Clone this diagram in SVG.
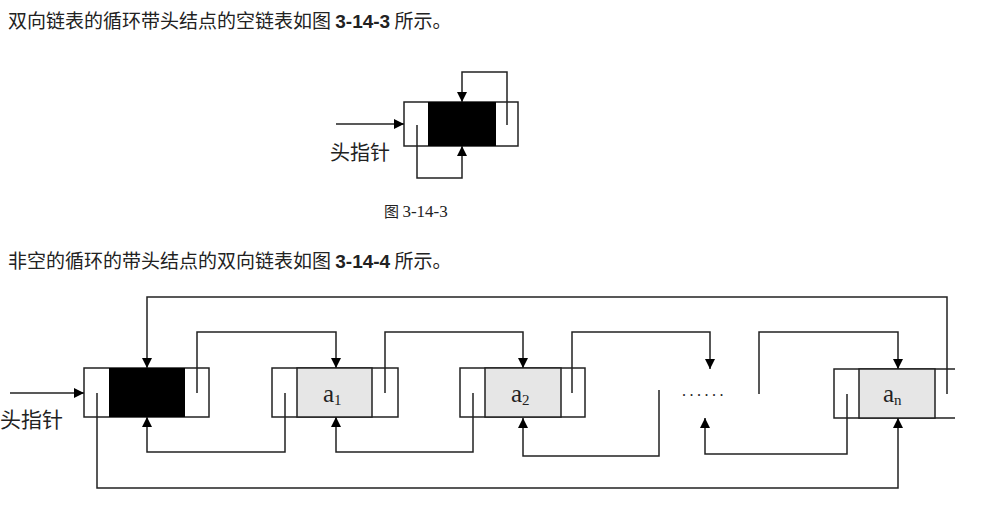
<svg xmlns="http://www.w3.org/2000/svg" width="989" height="514" viewBox="0 0 989 514">
<defs>
<marker id="ar" viewBox="0 0 10 10" refX="10" refY="5" markerWidth="11" markerHeight="10" markerUnits="userSpaceOnUse" orient="auto"><path d="M0,0 L10,5 L0,10 z" fill="#000"/></marker>
<style>
.ln{fill:none;stroke:#222;stroke-width:1.5}
.c{fill:none;stroke:#222;stroke-width:1.5;marker-end:url(#ar)}
.bx{fill:#fff;stroke:#222;stroke-width:1.5}
.blk{fill:#000}
.gr{fill:#e6e6e6;stroke:#222;stroke-width:1.5}
.cn{font-family:"Noto Sans CJK SC","Noto Sans",sans-serif;fill:#222}
.lb{font-family:"Liberation Serif",serif;font-size:25px;fill:#222}
</style>
</defs>
<rect width="989" height="514" fill="#fff"/>
<text class="cn" x="8" y="28" font-size="19">双向链表的循环带头结点的空链表如图 <tspan font-weight="bold" font-family="Liberation Sans,sans-serif">3-14-3</tspan> 所示。</text>
<text class="cn" x="8" y="268" font-size="19">非空的循环的带头结点的双向链表如图 <tspan font-weight="bold" font-family="Liberation Sans,sans-serif">3-14-4</tspan> 所示。</text>

<g id="empty-head">
<rect class="bx" x="404" y="102" width="114" height="44"/>
<rect class="blk" x="428" y="102" width="68" height="44"/>
</g>
<text class="cn" x="330" y="160" font-size="20">头指针</text>
<text class="cn" x="384" y="217" font-size="15">图 <tspan font-family="Liberation Serif,serif" font-size="17">3-14-3</tspan></text>

<g id="head"><rect class="bx" x="84" y="368" width="125" height="49"/><rect class="blk" x="109" y="368" width="76" height="49"/></g>
<g id="a1"><rect class="bx" x="272" y="368" width="126" height="49"/><rect class="gr" x="297" y="368" width="75" height="49"/><text class="lb" x="323" y="402">a<tspan font-size="15" dy="3">1</tspan></text></g>
<g id="a2"><rect class="bx" x="460" y="368" width="125" height="49"/><rect class="gr" x="485" y="368" width="76" height="49"/><text class="lb" x="511" y="402">a<tspan font-size="15" dy="3">2</tspan></text></g>
<g id="an"><path class="ln" d="M955,369 H834 V418 H955"/><rect class="gr" x="859" y="369" width="76" height="49"/><text class="lb" x="883" y="402">a<tspan font-size="15" dy="3">n</tspan></text></g>
<text x="682" y="396" font-family="Liberation Serif,serif" font-size="16" fill="#222" letter-spacing="3.5">......</text>
<text class="cn" x="0" y="427" font-size="21">头指针</text>

<g id="connectors">
<path class="c" d="M336,124 H404"/>
<path class="c" d="M507,125 V72 H462 V102"/>
<path class="c" d="M417,125 V178 H462 V146"/>
<path class="c" d="M10,393 H84"/>
<path class="c" d="M947,394 V297 H147 V368"/>
<path class="c" d="M197,393 V332 H336 V368"/>
<path class="c" d="M385,393 V332 H523 V368"/>
<path class="c" d="M572,393 V332 H710 V369"/>
<path class="c" d="M759,394 V332 H898 V369"/>
<path class="c" d="M97,393 V488 H898 V418"/>
<path class="c" d="M285,393 V452 H147 V417"/>
<path class="c" d="M473,393 V452 H336 V417"/>
<path class="c" d="M659,390 V456 H523 V418"/>
<path class="c" d="M847,394 V454 H705 V418"/>
</g>
</svg>
